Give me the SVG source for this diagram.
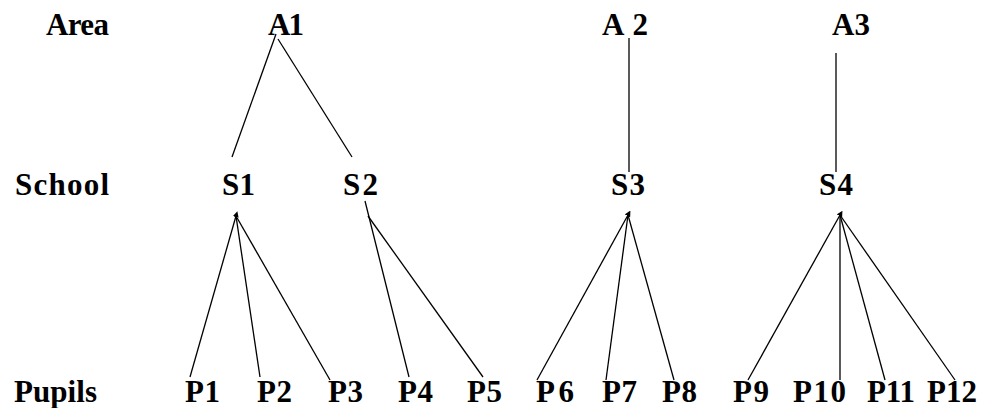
<svg xmlns="http://www.w3.org/2000/svg" width="983" height="408" viewBox="0 0 983 408">
<style>
text{font-family:"Liberation Serif","Times New Roman",serif;font-weight:bold;font-size:31px;fill:#000}
.c line{stroke:#000;stroke-width:1.3;fill:none}
</style>
<defs>
<marker id="hub" viewBox="0 0 6 6" refX="1" refY="3" markerWidth="6" markerHeight="6" markerUnits="userSpaceOnUse" orient="auto-start-reverse">
<path d="M0,0 L6,3 L0,6 z" fill="#000"/>
</marker>
</defs>
<rect width="983" height="408" fill="#fff"/>
<g id="levels">
<text x="46" y="35" textLength="63">Area</text>
<text x="15" y="195" textLength="94">School</text>
<text x="14" y="402" textLength="83">Pupils</text>
</g>
<g class="c" id="connectors">
<line x1="276" y1="34" x2="232" y2="157"/>
<line x1="278" y1="39" x2="352" y2="157"/>
<line x1="629" y1="38" x2="629" y2="172"/>
<line x1="836" y1="53" x2="836" y2="172"/>
<line x1="236" y1="216" x2="190" y2="377" marker-start="url(#hub)"/>
<line x1="236" y1="216" x2="260" y2="377"/>
<line x1="236" y1="216" x2="330" y2="380"/>
<line x1="365" y1="201" x2="409" y2="377"/>
<line x1="368" y1="216" x2="483" y2="377"/>
<line x1="628" y1="215" x2="537" y2="380" marker-start="url(#hub)"/>
<line x1="628" y1="215" x2="606" y2="380"/>
<line x1="628" y1="215" x2="674" y2="380"/>
<line x1="840" y1="215" x2="748" y2="380" marker-start="url(#hub)"/>
<line x1="840" y1="215" x2="840" y2="380"/>
<line x1="840" y1="215" x2="885" y2="380"/>
<line x1="840" y1="215" x2="955" y2="380"/>
</g>
<g id="A1"><text x="268" y="35" textLength="36">A1</text></g>
<g id="A2"><text x="602" y="35" textLength="46">A 2</text></g>
<g id="A3"><text x="832" y="35" textLength="38">A3</text></g>
<g id="S1"><text x="222" y="195" textLength="33">S1</text></g>
<g id="S2"><text x="343" y="195" textLength="35">S2</text></g>
<g id="S3"><text x="611" y="195" textLength="34">S3</text></g>
<g id="S4"><text x="819" y="195" textLength="34">S4</text></g>
<g id="P1"><text x="185" y="402" textLength="35">P1</text></g>
<g id="P2"><text x="257" y="402" textLength="35">P2</text></g>
<g id="P3"><text x="328" y="402" textLength="35">P3</text></g>
<g id="P4"><text x="398" y="402" textLength="35">P4</text></g>
<g id="P5"><text x="467" y="402" textLength="35">P5</text></g>
<g id="P6"><text x="536" y="402" textLength="38">P6</text></g>
<g id="P7"><text x="602" y="402" textLength="35">P7</text></g>
<g id="P8"><text x="662" y="402" textLength="35">P8</text></g>
<g id="P9"><text x="733" y="402" textLength="36">P9</text></g>
<g id="P10"><text x="793" y="402" textLength="53">P10</text></g>
<g id="P11"><text x="867" y="402" textLength="48">P11</text></g>
<g id="P12"><text x="927" y="402" textLength="50">P12</text></g>
</svg>
